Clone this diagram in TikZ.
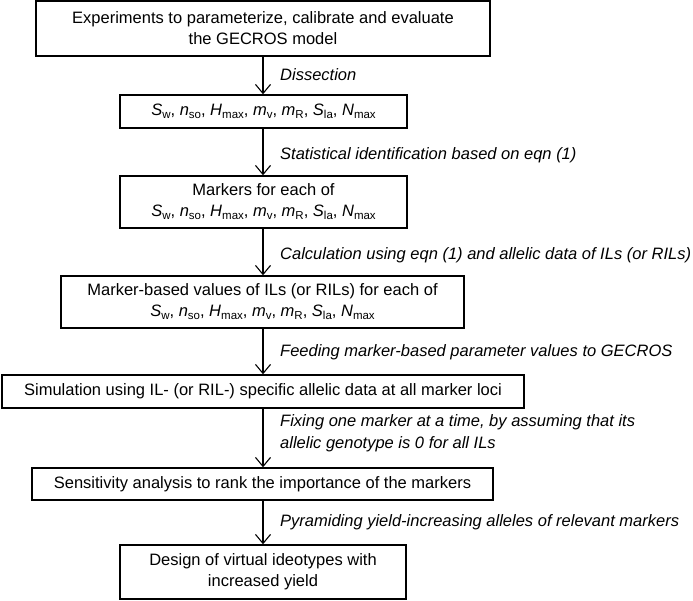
\documentclass[tikz,border=0pt]{standalone}
\usepackage{fontspec}
\setmainfont{Liberation Sans}
\usetikzlibrary{arrows.meta}
\newcommand\pr[2]{\textit{#1}\raisebox{-0.35ex}{\fontsize{11.5}{11.5}\selectfont #2}}
\newcommand\params{\pr{S}{w}, \pr{n}{so}, \pr{H}{max}, \pr{m}{v}, \pr{m}{R}, \pr{S}{la}, \pr{N}{max}}
\begin{document}
\begin{tikzpicture}[x=1pt,y=-1pt,
  box/.style={draw,line width=1.4pt,align=center,inner sep=0pt,font=\fontsize{16.5}{21}\selectfont},
  lab/.style={anchor=west,align=left,inner sep=0pt,font=\fontsize{16.5}{22}\selectfont\itshape},
  arr/.style={line width=1.1pt,-{Straight Barb[length=9pt,width=15pt,line width=1.1pt]}}]
\useasboundingbox (0,0) rectangle (693,601);
\node[box,minimum width=454pt,minimum height=55pt] (b1) at (263,28.5) {Experiments to parameterize, calibrate and evaluate\\the GECROS model};
\node[box,minimum width=287pt,minimum height=33pt] (b2) at (263.5,111.5) {\params};
\node[box,minimum width=287pt,minimum height=52pt] (b3) at (263.5,202) {Markers for each of\\\params};
\node[box,minimum width=403pt,minimum height=52pt] (b4) at (262.5,302) {Marker-based values of ILs (or RILs) for each of\\\params};
\node[box,minimum width=522pt,minimum height=33pt] (b5) at (263,391.5) {Simulation using IL- (or RIL-) specific allelic data at all marker loci};
\node[box,minimum width=461pt,minimum height=32pt] (b6) at (262.5,484) {Sensitivity analysis to rank the importance of the markers};
\node[box,minimum width=286pt,minimum height=54pt] (b7) at (263,572) {Design of virtual ideotypes with\\increased yield};
\draw[arr] (b1.south -| 263,0) -- (b2.north -| 263,0);
\draw[arr] (b2.south -| 263,0) -- (b3.north -| 263,0);
\draw[arr] (b3.south -| 263,0) -- (b4.north -| 263,0);
\draw[arr] (b4.south -| 263,0) -- (b5.north -| 263,0);
\draw[arr] (b5.south -| 263,0) -- (b6.north -| 263,0);
\draw[arr] (b6.south -| 263,0) -- (b7.north -| 263,0);
\node[lab] (l1) at (280,75) {Dissection};
\node[lab] (l2) at (280,155) {Statistical identification based on eqn (1)};
\node[lab] (l3) at (280,255) {Calculation using eqn (1) and allelic data of ILs (or RILs)};
\node[lab] (l4) at (280,352) {Feeding marker-based parameter values to GECROS};
\node[lab] (l5) at (280,433) {Fixing one marker at a time, by assuming that its\\allelic genotype is 0 for all ILs};
\node[lab] (l6) at (280,522) {Pyramiding yield-increasing alleles of relevant markers};
\end{tikzpicture}
\end{document}
